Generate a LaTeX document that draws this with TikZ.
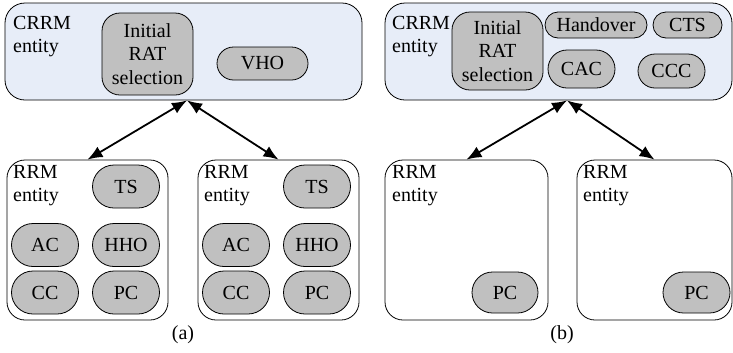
\documentclass[tikz,border=0pt]{standalone}
\usepackage{fontspec}
\setmainfont{Liberation Serif}
\usepackage{tikz}
\usetikzlibrary{arrows.meta}
\usetikzlibrary{shapes.misc}

\definecolor{crrmfill}{RGB}{231,237,248}
\definecolor{funcfill}{RGB}{192,192,192}

\begin{document}
\begin{tikzpicture}[x=1bp,y=-1bp,
  every node/.style={font=\fontsize{20bp}{23.5bp}\selectfont},
  crrm/.style={draw,fill=crrmfill,rounded corners=20bp,line width=0.8bp,inner sep=0pt},
  rrm/.style={draw,rounded corners=18bp,line width=0.8bp,inner sep=0pt},
  func/.style={draw,fill=funcfill,rounded rectangle,line width=0.8bp,inner sep=0pt,
    minimum width=67bp,minimum height=43bp},
  rat/.style={draw,fill=funcfill,rounded corners=18bp,line width=0.8bp,align=center,
    inner sep=0pt,minimum width=91bp},
  entname/.style={anchor=north west,align=left,inner sep=0pt},
  link/.style={{Latex[length=15bp,width=12bp]}-{Latex[length=15bp,width=12bp]},line width=1.8bp}]
\useasboundingbox (0,0) rectangle (733,352);
% (a)
\node [crrm,minimum width=357bp,minimum height=97bp] (crrmA) at (183.5,51.5) {};
\node [entname] (crrmAtxt) at (13,16) {CRRM\\entity};
\node [rat,minimum height=82bp] (ratA) at (147.5,54) {Initial\\RAT\\selection};
\node [func,minimum width=91bp,minimum height=33bp] (vho) at (262.5,63.5) {VHO};
\node [rrm,minimum width=161bp,minimum height=160bp] (rrmA1) at (87.5,240) {};
\node [rrm,minimum width=161bp,minimum height=160bp] (rrmA2) at (278.5,240) {};
\node [entname] (rrmA1txt) at (13,165) {RRM\\entity};
\node [entname] (rrmA2txt) at (204,165) {RRM\\entity};
\node [func] (tsA1) at (126,186.5) {TS};
\node [func] (acA1) at (45,245) {AC};
\node [func] (hhoA1) at (126,245) {HHO};
\node [func] (ccA1) at (45,292.5) {CC};
\node [func] (pcA1) at (126,292.5) {PC};
\node [func] (tsA2) at (317,186.5) {TS};
\node [func] (acA2) at (236,245) {AC};
\node [func] (hhoA2) at (317,245) {HHO};
\node [func] (ccA2) at (236,292.5) {CC};
\node [func] (pcA2) at (317,292.5) {PC};
\draw [link] ([xshift=3.5bp]crrmA.south) -- (rrmA1.north);
\draw [link] ([xshift=3.5bp]crrmA.south) -- (rrmA2.north);
\node (capA) at (183,335) {(a)};
% (b)
\node [crrm,minimum width=347bp,minimum height=97bp] (crrmB) at (558.5,51.5) {};
\node [entname] (crrmBtxt) at (392,16) {CRRM\\entity};
\node [rat,minimum height=78bp] (ratB) at (497.5,51) {Initial\\RAT\\selection};
\node [func,minimum width=102bp,minimum height=26bp] (hand) at (596,25) {Handover};
\node [func,minimum width=69bp,minimum height=26bp] (cts) at (687.5,25) {CTS};
\node [func,minimum height=38bp] (cac) at (581.5,69) {CAC};
\node [func,minimum height=34bp] (ccc) at (671.5,71) {CCC};
\node [rrm,minimum width=163bp,minimum height=160bp] (rrmB1) at (466.5,240) {};
\node [rrm,minimum width=155bp,minimum height=160bp] (rrmB2) at (654.5,240) {};
\node [entname] (rrmB1txt) at (392,165) {RRM\\entity};
\node [entname] (rrmB2txt) at (583,165) {RRM\\entity};
\node [func,minimum width=66bp,minimum height=41bp] (pcB1) at (505,292.5) {PC};
\node [func,minimum width=67bp,minimum height=41bp] (pcB2) at (696.5,292.5) {PC};
\draw [link] ([xshift=8.5bp]crrmB.south) -- (rrmB1.north);
\draw [link] ([xshift=8.5bp]crrmB.south) -- (rrmB2.north);
\node (capB) at (562,335) {(b)};
\end{tikzpicture}
\end{document}
